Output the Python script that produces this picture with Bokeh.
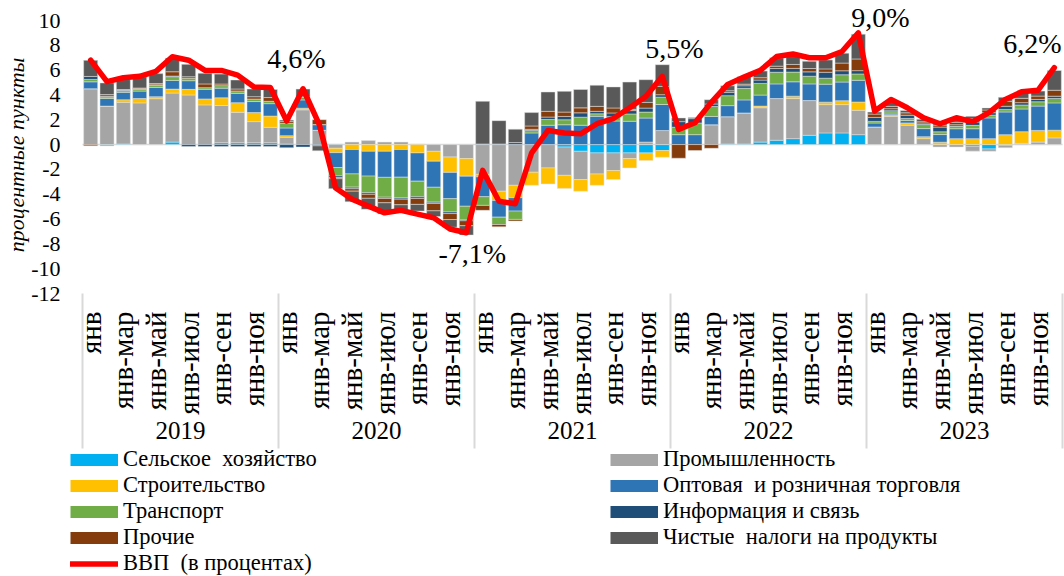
import numpy as np
from bokeh.plotting import figure
from bokeh.models import (ColumnDataSource, Range1d, FixedTicker, Legend, LegendItem, Title)
from bokeh.embed import file_html
from bokeh.resources import INLINE

# ---------------- data ----------------
years = ["2019", "2020", "2021", "2022", "2023"]
months = ["янв", "янв-фев", "янв-мар", "янв-апр", "янв-май", "янв-июн",
          "янв-июл", "янв-авг", "янв-сен", "янв-окт", "янв-ноя", "янв-дек"]

series_names = ["Сельское  хозяйство", "Промышленность", "Строительство",
                "Оптовая  и розничная торговля", "Транспорт", "Информация и связь",
                "Прочие", "Чистые  налоги на продукты"]
gdp_name = "ВВП  (в процентах)"

agri = [0, -0.1, 0.05, 0, 0, 0.2, 0, 0, 0.15, 0.15, 0.15, 0.15,
        0.05, 0, 0, 0.05, 0, 0, 0, 0, 0, 0, 0, 0,
        0, 0, 0, 0, 0, -0.2, -0.54, -0.67, -0.67, -0.67, -0.67, -0.48,
        0, 0, 0, 0.05, 0.05, 0.2, 0.35, 0.48, 0.75, 0.94, 0.94, 0.8,
        0, 0, 0, 0, 0, 0, -0.13, -0.35, -0.05, 0, 0, 0]
industry = [4.5, 3.1, 3.36, 3.36, 3.7, 3.95, 4.0, 3.2, 3.0, 2.45, 1.7, 1.24,
            0.54, 2.8, 1.15, -0.3, 0.2, 0.32, 0.2, 0.2, 0.05, -0.54, -1.0, -1.13,
            -2.4, -3.76, -3.28, -2.23, -1.88, -2.28, -2.28, -1.7, -1.42, -0.46, 0.2, 1.13,
            0, 0, 1.6, 2.2, 2.5, 2.77, 3.36, 3.23, 2.8, 2.28, 2.28, 1.96,
            1.42, 2.28, 1.56, 0.48, -0.2, -0.2, -0.4, -0.19, -0.2, 0.1, 0.2, 0.54]
construction = [0, 0, 0.2, 0.35, 0.16, 0.32, 0.45, 0.48, 0.62, 0.78, 0.73, 0.91,
                0.13, 0.13, 0, -0.35, -0.4, -0.54, -0.54, -0.4, -0.67, -0.8, -1.24, -1.42,
                -0.2, -0.75, -1.0, -1.05, -1.29, -1.05, -0.94, -0.91, -0.73, -0.75, -0.62, -0.54,
                0, 0, 0, 0, 0, 0.13, 0, 0.19, 0, 0.2, 0.32, 0.67,
                0, 0.13, 0.19, 0.16, 0.19, 0.48, 0.48, 0.48, 0.8, 0.94, 0.94, 0.62]
trade = [0.56, 0.62, 0.6, 0.6, 0.75, 0.7, 0.7, 0.78, 0.78, 0.75, 0.89, 1.0,
         0.62, 0.67, 0.46, -1.2, -1.96, -2.0, -2.1, -2.23, -2.28, -2.1, -2.12, -2.42,
         -1.6, -1.34, -1.08, 0.94, 1.56, 1.6, 1.56, 2.28, 1.9, 1.88, 1.94, 2.1,
         0.8, 0.8, 0.67, 0.89, 1.05, 0.89, 1.18, 1.16, 1.34, 1.45, 1.5, 1.75,
         0.32, 0.13, 0.19, 0.65, 0.62, 0.8, 0.8, 1.67, 1.83, 1.83, 1.96, 2.2]
transport = [0.19, 0.13, 0.13, 0.15, 0.16, 0.3, 0.2, 0.13, 0.2, 0.19, 0.2, 0.19,
             0.38, 0.2, 0, -0.67, -1.07, -1.34, -1.6, -1.67, -1.26, -1.2, -1.07, -1.07,
             -0.7, -0.59, -0.67, 0.19, 0.46, 0.4, 0.65, 0.2, 0.35, 0.59, 0.48, 0.59,
             0.6, 0.94, 0.8, 0.8, 0.94, 0.94, 0.94, 0.78, 0.62, 0.48, 0.59, 0.51,
             0.13, 0.19, 0.16, 0.32, 0.22, 0.19, 0.27, 0.22, 0.19, 0.32, 0.35, 0.35]
info = [0.24, 0.05, 0.05, 0.05, 0.05, 0.05, -0.15, -0.15, -0.15, -0.15, -0.15, -0.15,
        -0.25, -0.2, -0.1, -0.13, -0.13, -0.13, -0.1, -0.1, -0.13, -0.1, -0.13, -0.1,
        0.05, 0.05, 0.16, 0.1, 0.2, 0.27, 0.35, 0.2, 0.3, 0.27, 0.32, 0.2,
        0.45, 0.35, 0.2, 0.27, 0.2, 0.27, 0.3, 0.3, 0.35, 0.48, 0.32, 0.27,
        0.32, 0.16, 0.27, 0.13, 0.38, 0.13, 0.27, 0.2, 0.27, 0.19, 0.19, 0.19]
other = [-0.1, 0.13, 0.05, 0.05, 0.1, 0.35, 0.12, 0.3, 0.13, 0.16, 0.19, 0.3,
         0.16, 0.05, 0.4, -0.1, -0.19, -0.32, -0.35, -0.45, -0.48, -0.6, -0.48, -0.4,
         -0.4, -0.19, -0.13, 0.27, 0.46, 0.35, 0.4, 0.4, 0.4, 0.1, 0.46, 0.67,
         -1.1, -0.48, -0.3, 0.13, 0.13, 0.19, 0.19, 0.32, 0.27, 0.27, 0.62, 0.94,
         0.27, 0.19, 0.19, 0.1, 0.16, 0.2, 0.27, 0.22, 0.4, 0.35, 0.27, 0.48]
taxes = [1.3, 0.94, 0.8, 0.9, 0.8, 1.1, 1.0, 0.86, 0.8, 0.73, 0.62, 0.65,
         0.1, 0.62, -0.4, -0.8, -0.86, -0.89, -0.9, -0.5, -0.54, -0.46, -0.62, -0.75,
         3.44, 1.88, 1.08, 1.08, 1.56, 1.67, 1.48, 1.7, 1.7, 2.2, 1.83, 1.75,
         0.3, 0.1, 0.35, 0.4, 0.6, 0.54, 0.67, 0.67, 0.59, 0.72, 0.8, 2.0,
         0.16, 0.4, 0.19, 0.2, 0.16, 0.3, 0.19, 0.16, 0.32, 0.4, 0.4, 1.59]
gdp = [6.8, 5.07, 5.39, 5.5, 5.9, 7.08, 6.8, 5.98, 5.98, 5.6, 4.64, 4.6,
       1.9, 4.5, 1.6, -3.5, -4.4, -4.96, -5.5, -5.3, -5.6, -5.9, -6.8, -7.1,
       -2.08, -4.56, -4.77, -0.66, 1.14, 0.93, 0.87, 1.68, 2.1, 2.97, 3.9, 5.5,
       1.23, 1.76, 3.4, 4.85, 5.44, 5.98, 7.1, 7.3, 7.0, 7.0, 7.5, 9.0,
       2.7, 3.64, 2.97, 2.16, 1.68, 2.16, 1.84, 2.57, 3.64, 4.26, 4.37, 6.2]

y_ticks = list(range(-12, 11, 2))

colors = ["#00B0F0", "#A5A5A5", "#FFC000", "#2E75B6",
          "#70AD47", "#1F4E79", "#843C0C", "#595959"]
gdp_color = "#FF0000"
sep_color = "#D9D9D9"

# labelled points (December of each year) and label offsets in screen px
label_idx = [11, 23, 35, 47, 59]
label_dx = [26, 6, 12, 22, -22]
label_dy = [-29, 21, -28, -15, -24]

# ---------------- layout constants (pixels) ----------------
FONT = "Liberation Serif"
n = len(years) * len(months)
x = np.arange(n)

W, H = 1064, 576
LEFT_PANEL = 64
PLOT_H = 273                  # px between 10 and -12
PX = (y_ticks[-1] - y_ticks[0]) / PLOT_H      # data units per px (y)
XPX = n / 980                                   # data units per px (x)
LEFT_EXTRA = 18               # frame starts 18px left of first bar slot
RIGHT_EXTRA = 2
TOP_EXTRA = 20
BELOW_PX = H - TOP_EXTRA - PLOT_H   # space under -12 for labels and legend

y_lo = y_ticks[0] - BELOW_PX * PX
y_hi = y_ticks[-1] + TOP_EXTRA * PX
x_lo = -0.5 - LEFT_EXTRA * XPX
x_hi = n - 0.5 + RIGHT_EXTRA * XPX

p = figure(width=W, height=H,
           x_range=Range1d(x_lo, x_hi), y_range=Range1d(y_lo, y_hi),
           output_backend="svg", toolbar_location=None, x_axis_type=None,
           min_border_left=LEFT_PANEL, min_border_right=0, min_border_top=0,
           min_border_bottom=0)
p.outline_line_color = None
p.ygrid.grid_line_color = None
p.background_fill_color = "white"

yax = p.yaxis[0]
yax.ticker = FixedTicker(ticks=y_ticks)
yax.major_label_overrides = {t: str(t) for t in y_ticks}
yax.axis_line_color = None
yax.major_tick_line_color = None
yax.minor_tick_line_color = None
yax.major_tick_out = 0
yax.major_tick_in = 0
yax.minor_tick_out = 0
yax.minor_tick_in = 0
yax.major_label_text_font = FONT
yax.major_label_text_font_size = "22px"
yax.major_label_text_color = "black"
yax.major_label_standoff = 4

ytitle = Title(text="процентные пункты", align="right", offset=57,
               text_font=FONT, text_font_size="22px", text_font_style="italic",
               text_color="black", standoff=0)
p.add_layout(ytitle, "left")

# zero line
p.segment(x0=[-0.5], y0=[0], x1=[n - 0.5], y1=[0], line_color=sep_color,
          line_width=1.5, level="underlay")

# stacked bars (positives above zero, negatives below, in series order)
all_series = [agri, industry, construction, trade, transport, info, other, taxes]
pos = np.zeros(n)
neg = np.zeros(n)
for vals, color in zip(all_series, colors):
    v = np.array(vals, dtype=float)
    bottom = np.where(v >= 0, pos, neg + v)
    top = np.where(v >= 0, pos + v, neg)
    pos = pos + np.clip(v, 0, None)
    neg = neg + np.clip(v, None, 0)
    src = ColumnDataSource(dict(x=x, bottom=bottom, top=top))
    p.vbar(x="x", bottom="bottom", top="top", width=0.86, source=src,
           fill_color=color, line_color="#E4E4E4", line_width=0.5)

gdp_r = p.line(x, gdp, line_color=gdp_color, line_width=5.5, line_join="round",
               line_cap="round")

lab_src = ColumnDataSource(dict(
    x=label_idx, y=[gdp[i] for i in label_idx],
    text=[f"{gdp[i]:.1f}%".replace(".", ",") for i in label_idx],
    dx=label_dx, dy=label_dy))
p.text(x="x", y="y", text="text", x_offset="dx", y_offset="dy", source=lab_src,
       text_font=FONT, text_font_size="28px", text_color="black",
       text_align="center", text_baseline="middle")

# ---------------- category axis (months / years) ----------------
month_ticks = [i for i in range(n) if i % 2 == 0]
ms = ColumnDataSource(dict(x=month_ticks, y=[y_ticks[0]] * len(month_ticks),
                           text=[months[i % 12] for i in month_ticks]))
p.text(x="x", y="y", text="text", source=ms, angle=np.pi / 2, y_offset=18,
       text_align="right", text_baseline="middle", text_font=FONT,
       text_font_size="29px", text_color="black")

year_centers = [12 * k + 5.5 for k in range(len(years))]
ys = ColumnDataSource(dict(x=year_centers, y=[y_ticks[0]] * len(years), text=years))
p.text(x="x", y="y", text="text", source=ys, y_offset=137,
       text_align="center", text_baseline="middle", text_font=FONT,
       text_font_size="25px", text_color="black")

year_bounds = [12 * k - 0.5 for k in range(len(years) + 1)]
p.segment(x0=year_bounds, x1=year_bounds, y0=[y_ticks[0]] * len(year_bounds),
          y1=[y_ticks[0] - 155 * PX] * len(year_bounds),
          line_color=sep_color, line_width=2)

# ---------------- legend ----------------
# legend swatches: thick line renderers with no visible data
swatch = []
for color in colors:
    s = ColumnDataSource(dict(x=[0.0], y=[np.nan]))
    swatch.append(p.line(x="x", y="y", source=s, line_color=color,
                         line_width=12, line_cap="butt"))

order = [(series_names[0], swatch[0]), (series_names[2], swatch[2]),
         (series_names[4], swatch[4]), (series_names[6], swatch[6]),
         (gdp_name, gdp_r),
         (series_names[1], swatch[1]), (series_names[3], swatch[3]),
         (series_names[5], swatch[5]), (series_names[7], swatch[7])]
legend = Legend(items=[LegendItem(label=lab, renderers=[r]) for lab, r in order],
                location=(6, 0), orientation="vertical", ncols=2,
                margin=0, padding=0, spacing=0,
                glyph_width=48, glyph_height=25, label_standoff=5,
                label_width=487, label_height=20,
                label_text_font=FONT, label_text_font_size="22.5px",
                label_text_color="black",
                border_line_color=None, background_fill_alpha=0)
p.add_layout(legend)

open("out.html", "w").write(file_html(p, INLINE))
